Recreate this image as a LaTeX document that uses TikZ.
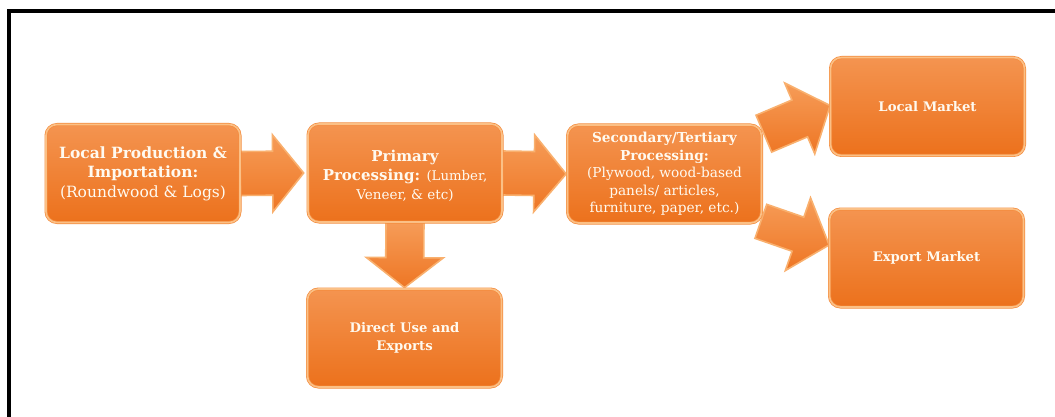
\documentclass[tikz,border=0pt]{standalone}
\usepackage{fontspec}
\setmainfont{DejaVu Serif}
\usetikzlibrary{calc}

\definecolor{boxtop}{RGB}{244,148,80}
\definecolor{boxbot}{RGB}{236,113,28}
\definecolor{rimout}{RGB}{244,140,62}
\definecolor{rimin}{RGB}{251,192,134}
\definecolor{arrtop}{RGB}{246,156,88}
\definecolor{arrbot}{RGB}{238,118,36}
\definecolor{arrrim}{RGB}{249,176,110}
\definecolor{txt}{RGB}{255,250,240}

\pgfdeclarelayer{paper}
\pgfdeclarelayer{bg}
\pgfsetlayers{paper,bg,main}

\tikzset{
  stage/.style={rectangle, rounded corners=11pt, minimum width=194pt,
    minimum height=98pt, inner sep=2pt, align=center, text=txt,
    top color=boxtop, bottom color=boxbot,
    draw=rimout, double=rimin, double distance=1.6pt, line width=0.7pt},
  arrowbody/.style={top color=arrtop, bottom color=arrbot,
    draw=arrrim, line width=1.6pt, line join=miter},
}

% block arrow from tail point #1 to tip point #2,
% body half-width #3, head length #4, head half-width 38.5pt
\newcommand\blockarrow[4]{%
  \path let \p1=(#1), \p2=(#2),
    \n1={atan2(\y2-\y1,\x2-\x1)}, \n2={veclen(\x2-\x1,\y2-\y1)} in
    \pgfextra{\xdef\baang{\n1}\xdef\balen{\n2}\xdef\bax{\x1}\xdef\bay{\y1}};
  \begin{scope}[shift={(\bax,\bay)}, rotate=\baang]
    \path[arrowbody] (0pt,-#3) -- ({\balen-#4},-#3) -- ({\balen-#4},-38.5pt)
      -- (\balen,0pt) -- ({\balen-#4},38.5pt) -- ({\balen-#4},#3)
      -- (0pt,#3) -- cycle;
  \end{scope}}

\begin{document}
\begin{tikzpicture}[x=1pt,y=-1pt]
\useasboundingbox (0,0) rectangle (1055,417);
\begin{pgfonlayer}{paper}
  \fill[white] (0,0) rectangle (1055,417);
\end{pgfonlayer}

% frame
\draw[line width=3.5pt] (9,419) -- (9,11) -- (1057,11);

% stages
\node[stage, font=\fontsize{15.5}{19.5}\selectfont] (src) at (143,173.5)
  {{\bfseries Local Production \&}\\{\bfseries Importation:}\\(Roundwood \& Logs)};
\node[stage, font=\fontsize{15}{19}\selectfont] (prim) at (405,173)
  {\raisebox{0pt}[\dimexpr\height+8pt\relax][\depth]{\begin{tabular}{@{}c@{}}
    {\bfseries Primary}\\
    {\bfseries Processing:} {\fontsize{13.3}{19}\selectfont(Lumber,}\\
    {\fontsize{13.5}{19}\selectfont Veneer, \& etc)}
   \end{tabular}}};
\node[stage, font=\fontsize{13.7}{17.5}\selectfont] (sec) at (664.5,174)
  {{\bfseries Secondary/Tertiary}\\{\bfseries Processing:}\\(Plywood, wood-based\\panels/ articles,\\furniture, paper, etc.)};
\node[stage, font=\bfseries\fontsize{13.2}{18}\selectfont] (direct) at (404.5,338)
  {Direct Use and\\Exports};
\node[stage, font=\bfseries\fontsize{13.2}{18}\selectfont] (local) at (927.5,106.5)
  {Local Market};
\node[stage, font=\bfseries\fontsize{13.2}{18}\selectfont] (export) at (926.5,258)
  {Export Market};

% block arrows between the stages
\begin{pgfonlayer}{bg}
  \blockarrow{src.east}{$(prim.west)+(-4,0)$}{22pt}{31pt}
  \blockarrow{prim.east}{$(sec.west)+(-1,0)$}{22pt}{32pt}
  \blockarrow{prim.south}{$(direct.north)+(0,-1)$}{19pt}{30pt}
  \blockarrow{$(sec.north east)+(2,9)$}{$(local.west)+(0,-1)$}{20pt}{33pt}
  \blockarrow{$(sec.south east)+(-1,-2)$}{$(export.west)+(0,-13)$}{18pt}{33pt}
\end{pgfonlayer}
\end{tikzpicture}
\end{document}
